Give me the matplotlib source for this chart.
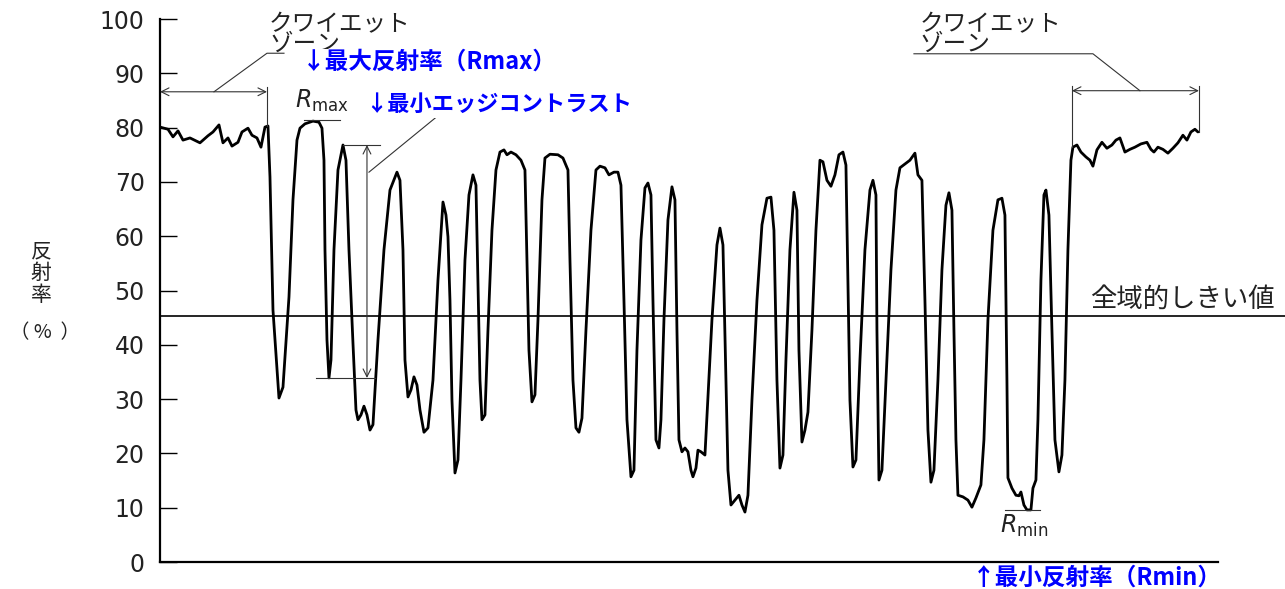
import numpy as np
import matplotlib.pyplot as plt

plt.rcParams['font.family'] = ['Noto Sans CJK JP', 'DejaVu Sans']
plt.rcParams['mathtext.fontset'] = 'dejavusans'

# scan position (arbitrary units) and reflectance (%)
pos = [0, 8, 13, 18, 23, 30, 40, 48, 53, 59, 63, 68, 72, 78, 82, 88, 92, 97, 101, 105,
       108, 110, 113, 119, 123, 129, 133, 137, 140, 145, 153, 159, 162, 164, 165, 167, 169, 171, 174, 178,
       183, 186, 189, 193, 196, 198, 201, 204, 207, 210, 213, 218, 224, 230, 237, 240, 243, 245, 248, 251,
       254, 257, 260, 264, 268, 273, 278, 283, 286, 288, 290, 292, 295, 298, 301, 305, 309, 313, 316, 318,
       320, 322, 325, 328, 332, 336, 340, 344, 347, 351, 356, 361, 365, 367, 369, 372, 375, 378, 382, 385,
       390, 398, 403, 408, 410, 413, 416, 419, 422, 426, 431, 436, 440, 445, 449, 454, 458, 461, 464, 467,
       471, 474, 477, 481, 485, 488, 491, 493, 496, 499, 501, 504, 508, 512, 515, 517, 519, 522, 525, 528,
       531, 533, 536, 538, 541, 545, 552, 557, 560, 563, 566, 568, 571, 575, 579, 582, 585, 588, 592, 597,
       602, 607, 611, 614, 617, 620, 623, 626, 630, 634, 637, 639, 642, 645, 648, 652, 656, 660, 663, 667,
       671, 675, 679, 683, 686, 688, 690, 693, 696, 700, 705, 710, 713, 716, 717, 719, 722, 726, 731, 736,
       740, 745, 750, 755, 758, 762, 765, 768, 771, 774, 778, 782, 786, 789, 792, 794, 796, 798, 803, 808,
       812, 816, 821, 824, 828, 833, 838, 842, 845, 847, 848, 852, 856, 859, 861, 864, 867, 871, 873, 876,
       878, 881, 884, 886, 889, 892, 895, 899, 902, 905, 908, 911, 913, 917, 921, 926, 930, 933, 937, 942,
       947, 952, 956, 960, 965, 970, 975, 981, 987, 991, 994, 998, 1003, 1008, 1013, 1018, 1023, 1027, 1031, 1035,
       1038]
refl = [80.1, 79.7, 78.3, 79.4, 77.7, 78.1, 77.2, 78.5, 79.2, 80.5, 77.2, 78.1, 76.6, 77.3, 79.2, 79.9, 78.6, 78.1, 76.4, 80.1,
        80.3, 70.9, 46.4, 30.2, 32.2, 48.8, 66.7, 77.7, 79.9, 80.7, 81.2, 81.0, 79.9, 74.0, 57.5, 40.9, 33.9, 37.2, 57.5, 72.2,
        76.8, 74.0, 57.5, 40.3, 28.0, 26.2, 27.1, 28.7, 27.1, 24.3, 25.3, 40.9, 57.5, 68.5, 71.8, 70.3, 57.5, 37.2, 30.4, 31.7,
        34.1, 32.6, 28.0, 23.9, 24.7, 33.5, 51.9, 66.3, 63.9, 59.9, 48.2, 29.8, 16.4, 18.8, 33.5, 55.6, 67.6, 71.3, 69.4, 51.9,
        33.5, 26.2, 27.1, 42.7, 61.1, 72.2, 75.5, 75.9, 75.0, 75.5, 75.0, 74.0, 72.2, 55.6, 39.0, 29.5, 30.8, 44.6, 66.7, 74.4,
        75.1, 75.0, 74.4, 72.2, 55.6, 33.5, 24.7, 23.9, 26.5, 42.7, 61.1, 72.2, 72.9, 72.6, 71.3, 71.8, 71.8, 69.4, 48.2, 26.2,
        15.7, 16.9, 39.0, 59.3, 68.9, 69.8, 67.6, 48.2, 22.5, 21.0, 26.2, 44.6, 63.0, 69.1, 66.7, 42.7, 22.5, 20.3, 21.0, 20.3,
        16.9, 15.7, 17.3, 20.6, 20.3, 19.7, 44.6, 58.4, 61.5, 58.4, 33.5, 16.9, 10.5, 11.4, 12.3, 10.5, 9.2, 12.3, 29.8, 48.2,
        62.1, 67.0, 67.2, 61.1, 33.5, 17.3, 19.7, 37.2, 57.5, 68.1, 64.8, 39.0, 22.1, 24.3, 27.6, 42.7, 61.1, 74.0, 73.7, 70.3,
        69.2, 71.3, 75.0, 75.5, 73.1, 51.9, 29.8, 17.5, 18.8, 37.2, 57.5, 68.5, 70.3, 67.6, 42.7, 15.1, 16.9, 33.5, 53.8, 68.5,
        72.6, 73.3, 74.0, 75.3, 71.3, 70.3, 48.2, 24.3, 14.7, 16.9, 33.5, 53.8, 65.7, 68.0, 64.8, 42.7, 22.5, 12.3, 12.0, 11.4,
        10.1, 11.8, 14.2, 22.5, 44.6, 61.1, 66.7, 67.0, 63.9, 33.5, 15.5, 13.6, 12.3, 12.2, 12.9, 10.5, 9.6, 9.6, 13.6, 15.1,
        26.2, 51.9, 67.6, 68.5, 63.9, 42.7, 22.5, 16.6, 19.7, 33.5, 57.5, 74.0, 76.4, 76.8, 75.5, 74.6, 74.0, 72.9, 75.9, 77.3,
        76.2, 76.8, 77.7, 78.1, 75.5, 76.0, 76.4, 77.0, 77.3, 76.0, 75.5, 76.4, 76.0, 75.3, 76.2, 77.2, 78.6, 77.7, 79.2, 79.7,
        79.2]

threshold = 45.3
r_max = 81.2
r_min = 9.6
edge_hi = 76.8
edge_lo = 33.9
yticks = [0, 10, 20, 30, 40, 50, 60, 70, 80, 90, 100]

fig = plt.figure(figsize=(12.85, 5.89), dpi=100)
ax = fig.add_axes([0.1245, 0.0458, 0.8233, 0.9219])

ax.plot(pos, refl, color='black', lw=2.0, solid_joinstyle='round', solid_capstyle='round')
ax.plot([0, 1125], [threshold, threshold], color='black', lw=1.2, clip_on=False)

ax.set_xlim(0, 1058)
ax.set_ylim(0, 100)
ax.set_yticks(yticks)
ax.set_xticks([])
ax.tick_params(axis='y', direction='in', length=12, width=1.0, pad=11,
               labelsize=17, labelcolor='#222222')
for lab in ax.get_yticklabels():
    lab.set_family('DejaVu Sans')
for s in ['top', 'right']:
    ax.spines[s].set_visible(False)
ax.spines['left'].set_linewidth(1.6)
ax.spines['bottom'].set_linewidth(1.6)

thin = dict(color='#333333', lw=0.8)
arr = dict(arrowstyle='<->', color='#333333', lw=0.8, shrinkA=0, shrinkB=0, mutation_scale=14)
zone = dict(fontsize=17, va='center', ha='left', color='#222222', linespacing=0.8)

# left quiet zone
ax.annotate('', xy=(0, 86.6), xytext=(107, 86.6), arrowprops=arr, annotation_clip=False)
ax.plot([107, 107], [87.5, 80.3], **thin)
ax.plot([54, 107, 124], [86.6, 93.7, 93.7], **thin)
ax.text(109, 97.2, 'クワイエット\nゾーン', **zone)

# right quiet zone
ax.annotate('', xy=(912, 86.8), xytext=(1039, 86.8), arrowprops=arr, annotation_clip=False)
ax.plot([912, 912], [87.6, 76.4], **thin)
ax.plot([1039, 1039], [87.6, 79.2], **thin)
ax.plot([754, 933, 980], [93.6, 93.6, 86.8], **thin)
ax.text(760, 97.2, 'クワイエット\nゾーン', **zone)

# Rmax / edge contrast / Rmin markers
ax.plot([144, 180], [r_max + 0.2, r_max + 0.2], **thin)
ax.text(135, 84.9, r'$R_{\rm max}$', fontsize=17, va='center', ha='left', color='#222222')
ax.plot([183, 220], [edge_hi, edge_hi], **thin)
ax.plot([156, 215], [edge_lo, edge_lo], **thin)
ax.annotate('', xy=(207, edge_hi), xytext=(207, edge_lo),
            arrowprops=dict(arrowstyle='<->', color='#333333', lw=0.8, shrinkA=0, shrinkB=0,
                            mutation_scale=14))
ax.plot([209, 300], [71.8, 85.5], **thin)
ax.plot([845, 880], [r_min, r_min], **thin)
ax.text(840, 6.6, r'$R_{\rm min}$', fontsize=17, va='center', ha='left', color='#222222')

ax.text(930, 48.4, '全域的しきい値', fontsize=19, va='center', ha='left', color='#222222')

# blue callouts
blue = dict(color='#0000FF', fontweight='bold', va='center', ha='left', zorder=5)
ax.text(142, 92.1, '↓最大反射率（Rmax）', fontsize=17,
        bbox=dict(facecolor='white', edgecolor='none', pad=1), **blue)
ax.text(205, 84.2, '↓最小エッジコントラスト', fontsize=16,
        bbox=dict(facecolor='white', edgecolor='none', pad=1), **blue)
ax.text(812, -2.8, '↑最小反射率（Rmin）', fontsize=17, **blue)

# y label
fig.text(41 / 1285, 1 - 273 / 589, '反\n射\n率', fontsize=15, ha='center', va='center',
         linespacing=1.0, color='#222222')
fig.text(45 / 1285, 1 - 333 / 589, '（ %  ）', fontsize=14, ha='center', va='center', color='#222222')

fig.savefig('out.png', dpi=100)
